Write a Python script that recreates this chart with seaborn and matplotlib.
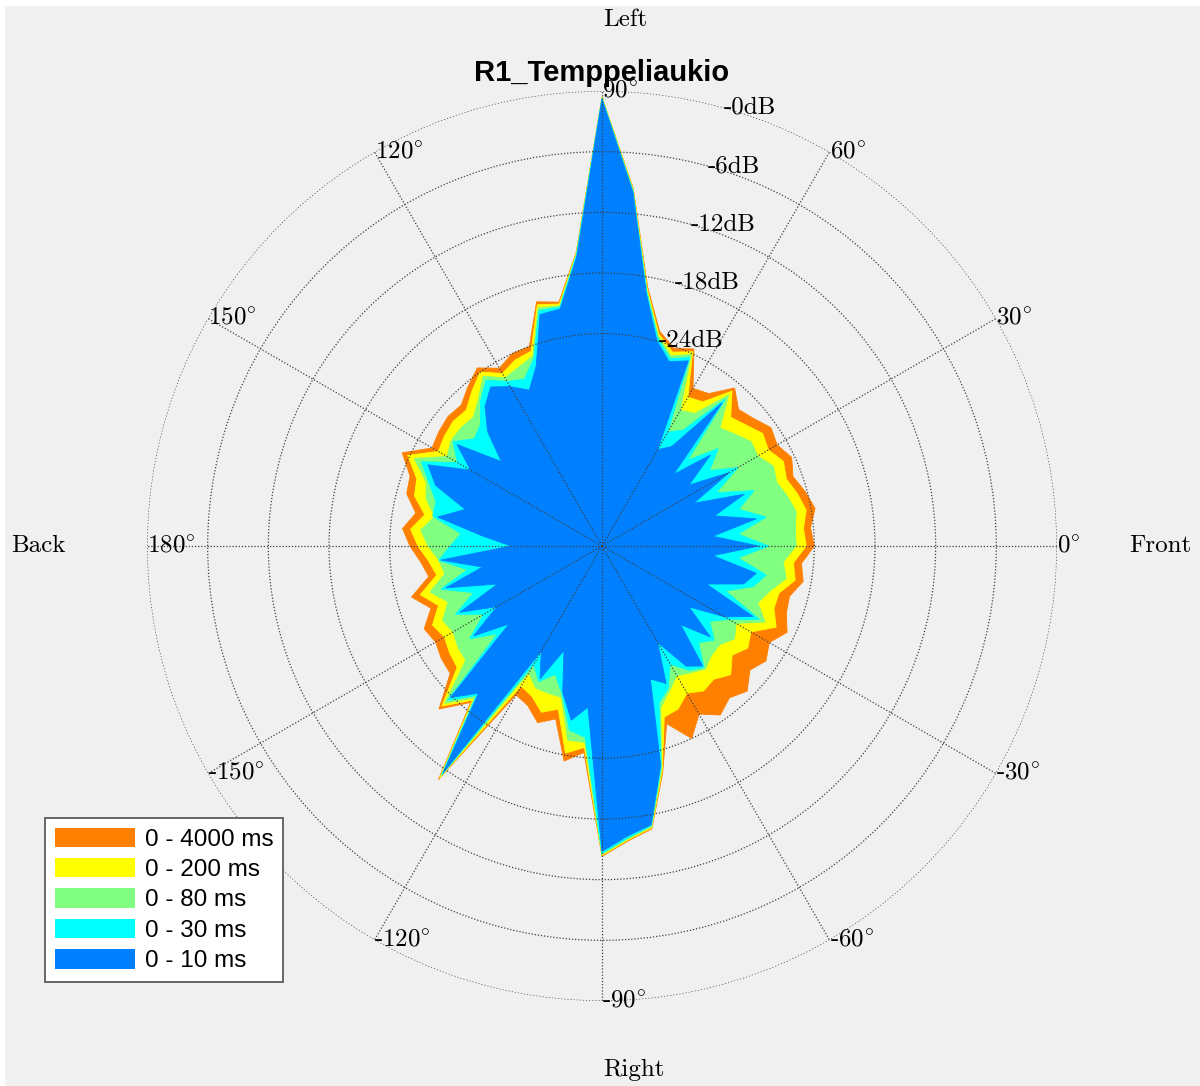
import numpy as np
import pandas as pd
import matplotlib
matplotlib.use("Agg")
import matplotlib.pyplot as plt
from matplotlib.patches import Patch, Rectangle
import seaborn as sns

# Azimuth sampling (degrees, 0 = front, counter-clockwise towards left)
azimuth_deg = list(range(0, 360, 5))

# Directional energy (dB re. maximum) integrated over growing time windows
energy_4000ms = [
    -24.0, -24.3, -23.6, -24.2, -24.9, -24.3, -25.0, -24.6, -25.4, -25.9,
    -24.6, -26.6, -27.0, -23.5, -24.2, -23.0, -19.0, -9.5, -0.6, -15.8,
    -20.5, -20.0, -24.0, -24.0, -24.7, -23.5, -24.4, -25.3, -25.1, -25.3,
    -25.6, -23.2, -24.8, -25.0, -26.3, -25.2, -26.0, -27.0, -27.6, -25.5,
    -27.0, -25.6, -26.0, -25.6, -25.4, -22.2, -24.8, -16.8, -28.0, -27.6,
    -26.4, -27.3, -23.4, -24.5, -14.3, -15.7, -16.6, -21.8, -26.3, -24.0,
    -25.8, -24.6, -25.4, -24.7, -25.9, -25.2, -25.9, -24.8, -25.6, -25.8,
    -24.8, -25.2,
]
energy_200ms = [
    -24.8, -25.0, -24.5, -25.0, -25.6, -25.2, -26.0, -25.6, -26.4, -27.0,
    -25.0, -27.6, -28.0, -23.8, -24.6, -23.3, -19.2, -9.6, -0.6, -15.9,
    -20.7, -20.3, -24.5, -24.7, -25.3, -24.0, -25.0, -26.0, -25.8, -26.0,
    -26.3, -23.8, -25.5, -25.8, -27.2, -26.0, -26.8, -27.8, -28.4, -26.4,
    -27.8, -26.5, -27.0, -26.6, -26.3, -22.6, -25.1, -17.0, -29.0, -28.6,
    -27.5, -28.3, -24.2, -25.0, -14.4, -15.8, -16.7, -22.0, -27.0, -27.2,
    -28.2, -27.5, -27.8, -27.0, -28.2, -27.4, -28.0, -26.0, -26.9, -26.9,
    -25.6, -26.0,
]
energy_80ms = [
    -25.8, -25.8, -25.5, -26.0, -26.6, -26.3, -27.2, -27.0, -27.8, -28.5,
    -25.5, -29.0, -29.5, -24.1, -25.0, -23.5, -19.4, -9.7, -0.7, -16.0,
    -20.9, -20.6, -25.0, -25.5, -25.8, -24.5, -26.0, -27.0, -26.8, -26.8,
    -27.3, -24.5, -26.5, -27.0, -28.2, -27.0, -27.8, -28.8, -29.2, -27.4,
    -28.8, -27.6, -28.0, -27.6, -27.4, -23.0, -25.4, -17.2, -30.5, -29.5,
    -29.5, -29.5, -25.5, -25.5, -14.5, -15.9, -16.8, -22.2, -28.0, -29.2,
    -30.2, -29.7, -29.1, -29.7, -29.8, -29.0, -29.7, -27.2, -28.6, -27.8,
    -26.5, -27.0,
]
energy_30ms = [
    -28.5, -31.5, -28.5, -31.0, -29.0, -32.5, -29.5, -32.0, -30.0, -33.0,
    -26.0, -31.0, -32.0, -24.4, -25.3, -23.7, -19.5, -9.8, -0.7, -16.1,
    -21.0, -20.9, -25.3, -26.8, -26.2, -25.0, -26.3, -28.0, -28.5, -27.0,
    -28.5, -25.3, -26.8, -28.0, -28.0, -31.0, -30.0, -28.8, -31.5, -28.5,
    -31.5, -29.0, -31.5, -29.0, -31.5, -23.4, -25.7, -17.4, -31.5, -30.2,
    -31.5, -29.8, -26.5, -26.0, -14.6, -16.0, -16.9, -22.4, -28.5, -29.5,
    -31.5, -30.0, -29.3, -31.5, -30.5, -32.0, -30.5, -27.8, -32.0, -29.5,
    -28.5, -31.5,
]
energy_10ms = [
    -29.5, -34.0, -29.5, -33.5, -30.0, -35.0, -30.5, -34.5, -31.0, -35.0,
    -26.5, -33.0, -34.0, -24.8, -25.6, -24.0, -19.7, -9.9, -0.8, -16.3,
    -21.2, -21.3, -26.0, -28.0, -26.8, -25.8, -27.0, -29.0, -32.0, -27.5,
    -30.0, -26.0, -27.5, -31.0, -28.5, -33.0, -36.0, -29.0, -33.0, -29.0,
    -34.0, -29.5, -33.0, -29.5, -33.0, -23.8, -26.0, -17.6, -33.0, -30.5,
    -34.0, -30.0, -27.5, -29.0, -14.8, -16.2, -17.0, -22.6, -31.0, -30.0,
    -34.0, -30.5, -29.5, -34.0, -31.0, -34.5, -31.0, -28.5, -34.0, -30.5,
    -29.5, -34.0,
]

window_labels = ["0 - 4000 ms", "0 - 200 ms", "0 - 80 ms", "0 - 30 ms", "0 - 10 ms"]
window_colors = ["#FF8000", "#FFFF00", "#80FF80", "#00FFFF", "#0080FF"]
window_series = [energy_4000ms, energy_200ms, energy_80ms, energy_30ms, energy_10ms]

ring_db = [-24, -18, -12, -6, 0]
ring_labels = ["-0dB", "-6dB", "-12dB", "-18dB", "-24dB"]
ring_label_db = [0, -6, -12, -18, -24]
spoke_deg = list(range(0, 360, 30))
spoke_labels = ["0", "30", "60", "90", "120", "150",
                "180", "-150", "-120", "-90", "-60", "-30"]

# Long-form table of all windows
frames = []
for lab, vals in zip(window_labels, window_series):
    frames.append(pd.DataFrame({"azimuth": azimuth_deg, "level": vals, "window": lab}))
df = pd.concat(frames, ignore_index=True)

sns.set_theme(style="white")
plt.rcParams["font.family"] = ["DejaVu Sans"]
plt.rcParams["mathtext.fontset"] = "cm"
plt.rcParams["text.color"] = "black"

W, H = 1200, 1086
fig = plt.figure(figsize=(W / 100, H / 100), dpi=100, facecolor="white")
# Grey window area with a thin white margin on the top and left edges
fig.patches.append(Rectangle((5 / W, 0), 1 - 5 / W, 1 - 6 / H,
                             transform=fig.transFigure, facecolor="#F0F0F0",
                             edgecolor="none", zorder=-10))

cx, cy, R = 602, 546, 455
ax = fig.add_axes([(cx - R) / W, (H - cy - R) / H, 2 * R / W, 2 * R / H],
                  projection="polar")
ax.set_facecolor("none")
ax.set_theta_zero_location("E")
ax.set_theta_direction(1)
ax.set_ylim(-45, 0)

palette = dict(zip(window_labels, window_colors))
for lab in window_labels:
    sub = df[df["window"] == lab]
    th = np.deg2rad(np.append(sub["azimuth"].to_numpy(), sub["azimuth"].iloc[0]))
    rr = np.append(sub["level"].to_numpy(), sub["level"].iloc[0])
    ax.fill(th, rr, facecolor=palette[lab], edgecolor=palette[lab],
            linewidth=0.6, zorder=1)

# Dotted polar grid drawn over the filled patterns
ax.set_axisbelow(False)
ax.set_yticks(ring_db)
ax.set_yticklabels([])
ax.set_xticks(np.deg2rad(spoke_deg))
ax.set_xticklabels([])
ax.grid(True, color="#404040", linestyle=(0, (1, 1.5)), linewidth=0.9)
ax.spines["polar"].set_visible(False)

serif = dict(fontsize=18, color="black", family=["cmr10", "DejaVu Serif"])
for d, lab in zip(spoke_deg, spoke_labels):
    ax.text(np.deg2rad(d), 0, lab + r"$^{\circ}$",
            ha="left", va="center", clip_on=False, zorder=5, **serif)
for v, lab in zip(ring_label_db, ring_labels):
    ax.text(np.deg2rad(74.5), v, lab,
            ha="left", va="center", clip_on=False, zorder=5, **serif)

# Direction captions
fig.text(625 / W, 1 - 20 / H, "Left", ha="center", va="center", **serif)
fig.text(634 / W, 1 - 1070 / H, "Right", ha="center", va="center", **serif)
fig.text(38 / W, 1 - 546 / H, "Back", ha="center", va="center", **serif)
fig.text(1160 / W, 1 - 546 / H, "Front", ha="center", va="center", **serif)

fig.text(602 / W, 1 - 73 / H, "R1_Temppeliaukio", ha="center", va="center",
         fontsize=21, fontweight="bold", color="black",
         family=["Liberation Sans", "DejaVu Sans"])

handles = [Patch(facecolor=c, edgecolor="none") for c in window_colors]
leg = fig.legend(handles, window_labels, loc="lower left",
                 bbox_to_anchor=(45 / W, 1 - 982 / H), borderaxespad=0,
                 fancybox=False, frameon=True, framealpha=1,
                 prop={"family": ["Liberation Sans", "DejaVu Sans"], "size": 17.5},
                 handlelength=3.3, handleheight=0.85, handletextpad=0.42,
                 labelspacing=0.3, borderpad=0.4)
for t in leg.get_texts():
    t.set_color("black")
leg.get_frame().set_edgecolor("#5a5a5a")
leg.get_frame().set_linewidth(1.3)
leg.get_frame().set_facecolor("white")

fig.savefig("out.png", dpi=100, facecolor=fig.get_facecolor())
